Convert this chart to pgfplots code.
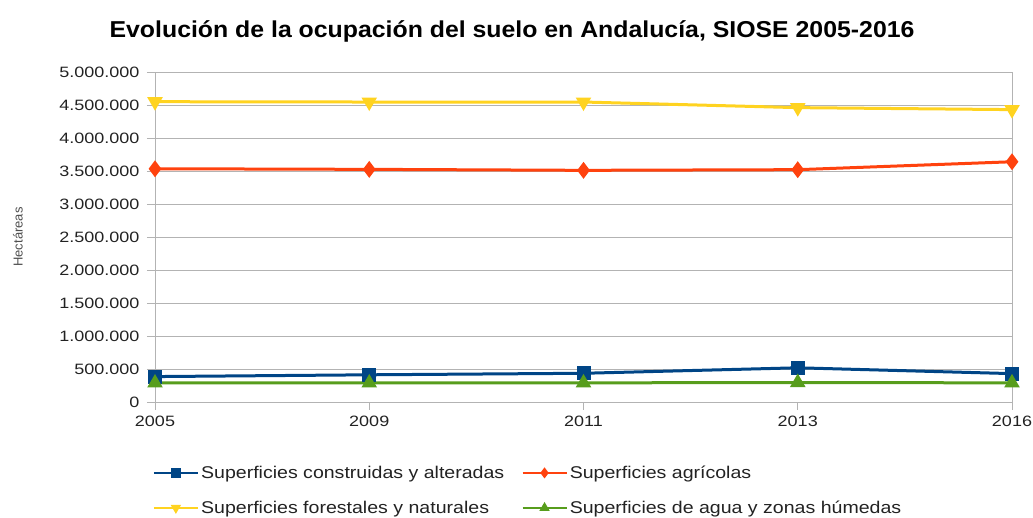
\documentclass[border=0pt]{standalone}
\usepackage{pgfplots}
\pgfplotsset{compat=1.18}
\usepackage{fontspec}
\setmainfont{Liberation Sans}
\newfontfamily\tickfont[FakeStretch=1.2]{Liberation Sans}
\newfontfamily\legfont[FakeStretch=1.15]{Liberation Sans}
\newfontfamily\titlefont[FakeStretch=1.08]{Liberation Sans}
\definecolor{cblue}{HTML}{004586}
\definecolor{corange}{HTML}{FF420E}
\definecolor{cyellow}{HTML}{FFD320}
\definecolor{cgreen}{HTML}{579D1C}
\definecolor{cgrid}{HTML}{B3B3B3}
\definecolor{ctext}{HTML}{222222}
\begin{document}
\begin{tikzpicture}[x=1pt,y=1pt]
\useasboundingbox (0,0) rectangle (1033,518);
\begin{axis}[
  at={(155pt,116pt)}, anchor=south west,
  scale only axis, width=857pt, height=330pt,
  xmin=0, xmax=4, ymin=0, ymax=5000000,
  xtick={0,1,2,3,4}, xticklabels={2005,2009,2011,2013,2016},
  ytick={0,500000,1000000,1500000,2000000,2500000,3000000,3500000,4000000,4500000,5000000},
  scaled y ticks=false,
  /pgf/number format/assume math mode=true,
  yticklabel style={/pgf/number format/.cd, fixed, 1000 sep={.}, /tikz/.cd, xshift=-4pt},
  xticklabel style={yshift=-2pt},
  ymajorgrids, grid style={cgrid, line width=0.8pt},
  axis line style={cgrid, line width=0.8pt},
  tick style={cgrid, line width=0.8pt},
  tick align=outside, major tick length=8pt, tick pos=left,
  ticklabel style={font=\tickfont\fontsize{15}{18}\selectfont, text=ctext},
  ylabel={Hectáreas},
  ylabel style={at={(axis description cs:-0.160,0.5)}, anchor=center, font=\fontsize{13}{15}\selectfont, text=ctext!80},
  title={Evolución de la ocupación del suelo en Andalucía, SIOSE 2005-2016},
  title style={at={(axis description cs:0.4166,1.106)}, anchor=center, font=\titlefont\bfseries\fontsize{23}{26}\selectfont},
  legend columns=2, legend cell align=left,
  legend style={at={(axis description cs:-0.003,-0.187)}, anchor=north west, draw=none, fill=none,
    font=\legfont\fontsize{17}{20}\selectfont, text=ctext, inner sep=0pt,
    row sep=17pt, /tikz/every even column/.append style={column sep=15pt}},
  legend image code/.code={\draw[line width=2.5pt, mark size=3.5pt, mark repeat=2, mark phase=2] plot coordinates {(0pt,0pt) (22pt,0pt) (44pt,0pt)};},
  every axis plot/.append style={line width=3pt},
]
\addplot[cblue, mark=square*, mark size=5.5pt, mark options={solid}] coordinates {(0,385000) (1,412000) (2,435000) (3,518000) (4,430000)};
\addlegendentry{Superficies construidas y alteradas}
\addplot[corange, mark=diamond*, mark size=6pt] coordinates {(0,3534000) (1,3525000) (2,3510000) (3,3520000) (4,3640000)};
\addlegendentry{Superficies agrícolas}
\addplot[cyellow, mark=triangle*, mark size=6pt, mark options={rotate=180}] coordinates {(0,4550000) (1,4545000) (2,4545000) (3,4460000) (4,4430000)};
\addlegendentry{Superficies forestales y naturales}
\addplot[cgreen, mark=triangle*, mark size=6pt] coordinates {(0,288000) (1,288000) (2,290000) (3,295000) (4,290000)};
\addlegendentry{Superficies de agua y zonas húmedas}
\end{axis}
\end{tikzpicture}
\end{document}
